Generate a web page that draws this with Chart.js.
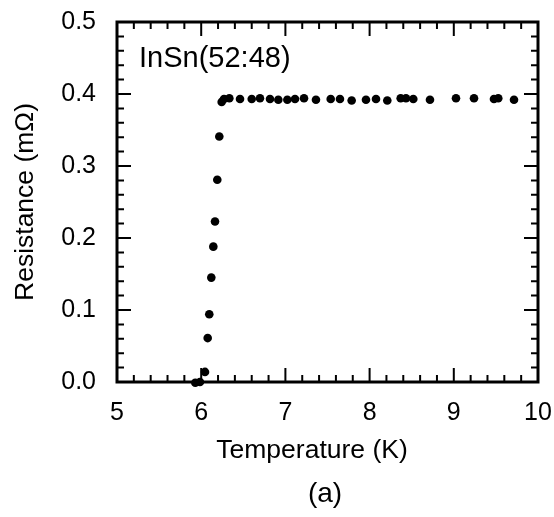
<!DOCTYPE html>
<html>
<head>
<meta charset="utf-8">
<script src="https://cdn.jsdelivr.net/npm/chart.js@4"></script>
<style>
  html, body { margin: 0; padding: 0; background: #fff; }
  #wrap { width: 554px; height: 517px; }
</style>
</head>
<body>
<div id="wrap"><canvas id="grafico"></canvas></div>
<script>
// DADOS
const temperatura = [5.93, 5.985, 6.045, 6.077, 6.096, 6.12, 6.144, 6.164, 6.191, 6.215,
  6.243, 6.271, 6.334, 6.461, 6.60, 6.698, 6.817, 6.916, 7.023, 7.114,
  7.221, 7.363, 7.538, 7.648, 7.787, 7.957, 8.076, 8.21, 8.369, 8.432,
  8.519, 8.717, 9.026, 9.24, 9.477, 9.528, 9.715];
const resistencia = [-0.001, 0.0, 0.014, 0.061, 0.094, 0.145, 0.188, 0.223, 0.281, 0.341,
  0.389, 0.393, 0.394, 0.393, 0.393, 0.394, 0.393, 0.392, 0.392, 0.393,
  0.394, 0.392, 0.393, 0.393, 0.391, 0.392, 0.393, 0.391, 0.394, 0.394,
  0.393, 0.392, 0.394, 0.394, 0.393, 0.394, 0.392];

// EIXOS
const xMin = 5, xMax = 10, xPasso = 1, xMenor = 0.2;
const yMin = 0, yMax = 0.5, yPasso = 0.1, yMenor = 0.02;

const rotulo = "InSn(52:48)";
const tituloX = "Temperature (K)";
const tituloY = "Resistance (mΩ)";
const legendaFig = "(a)";

const fonte = "'Liberation Sans', Arial, Helvetica, sans-serif";

let pontos = temperatura.map((t, i) => ({ x: t, y: resistencia[i] }));

// moldura com marcas para dentro + textos extras
const moldura = {
  id: "moldura",
  afterDraw(chart) {
    const ctx = chart.ctx;
    const a = chart.chartArea;
    const sx = chart.scales.x, sy = chart.scales.y;
    ctx.save();
    ctx.strokeStyle = "#000";
    ctx.lineWidth = 2;
    ctx.beginPath();
    let nx = Math.round((xMax - xMin) / xMenor);
    for (let i = 0; i <= nx; i++) {
      let px = sx.getPixelForValue(xMin + i * xMenor);
      let len = i % Math.round(xPasso / xMenor) === 0 ? 14 : 7;
      ctx.moveTo(px, a.bottom); ctx.lineTo(px, a.bottom - len);
      ctx.moveTo(px, a.top); ctx.lineTo(px, a.top + len);
    }
    let ny = Math.round((yMax - yMin) / yMenor);
    for (let i = 0; i <= ny; i++) {
      let py = sy.getPixelForValue(yMin + i * yMenor);
      let len = i % Math.round(yPasso / yMenor) === 0 ? 14 : 7;
      ctx.moveTo(a.left, py); ctx.lineTo(a.left + len, py);
      ctx.moveTo(a.right, py); ctx.lineTo(a.right - len, py);
    }
    ctx.stroke();
    ctx.lineWidth = 3;
    ctx.strokeRect(a.left, a.top, a.right - a.left, a.bottom - a.top);

    ctx.fillStyle = "#000";
    ctx.font = "29px " + fonte;
    ctx.textAlign = "left";
    ctx.textBaseline = "alphabetic";
    ctx.fillText(rotulo, a.left + 22, a.top + 44.5);

    // titulo do eixo x (um pouco deslocado para a esquerda, como no original)
    ctx.font = "26.5px " + fonte;
    ctx.textAlign = "center";
    ctx.textBaseline = "middle";
    ctx.fillText(tituloX, 312, 451);

    ctx.font = "28px " + fonte;
    ctx.fillText(legendaFig, 325, 494);
    ctx.restore();
  }
};

let ctx = document.getElementById("grafico").getContext("2d");

new Chart(ctx, {
  type: "scatter",
  data: {
    datasets: [{
      data: pontos,
      backgroundColor: "#000",
      borderColor: "#000",
      pointRadius: 4.3,
      pointHoverRadius: 4.3,
      borderWidth: 0,
      clip: false
    }]
  },
  options: {
    responsive: true,
    maintainAspectRatio: false,
    animation: false,
    layout: { padding: { left: 0, right: 16, top: 22, bottom: 0 } },
    plugins: {
      legend: { display: false },
      tooltip: { enabled: false }
    },
    scales: {
      x: {
        type: "linear",
        min: xMin,
        max: xMax,
        grid: { display: false },
        border: { display: false },
        ticks: {
          stepSize: xPasso,
          padding: 8,
          color: "#000",
          font: { family: fonte, size: 25, lineHeight: 1.2 },
          maxRotation: 0
        },
        title: { display: false },
        afterFit(s) {
          s.height = 135;
          s.paddingLeft = 0;
          s.paddingRight = 0;
        }
      },
      y: {
        type: "linear",
        min: yMin,
        max: yMax,
        grid: { display: false },
        border: { display: false },
        ticks: {
          stepSize: yPasso,
          padding: 13,
          color: "#000",
          font: { family: fonte, size: 25, lineHeight: 1.2 },
          callback: v => v.toFixed(1)
        },
        title: {
          display: true,
          text: tituloY,
          color: "#000",
          font: { family: fonte, size: 26.5, lineHeight: 1.2 },
          padding: { top: 10, bottom: 0 }
        },
        afterFit(s) {
          s.width = 117;
          s.paddingTop = 0;
          s.paddingBottom = 0;
        }
      }
    }
  },
  plugins: [moldura]
});
</script>
</body>
</html>
